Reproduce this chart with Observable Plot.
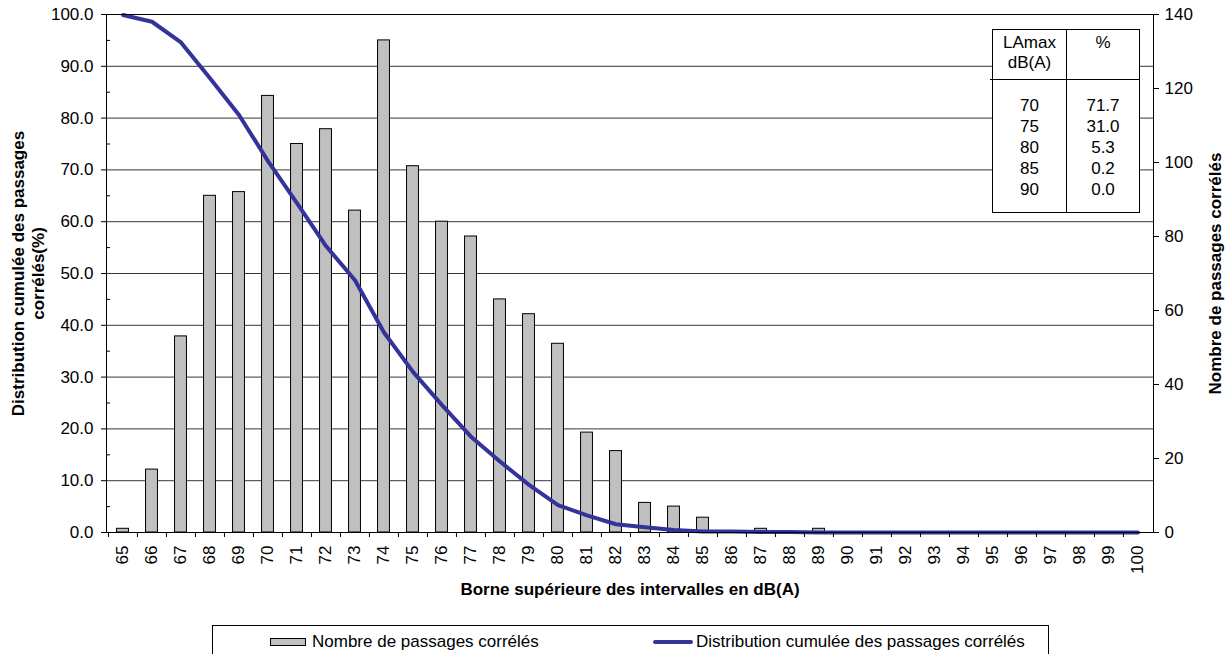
<!DOCTYPE html>
<html>
<head>
<meta charset="utf-8">
<script src="https://cdn.jsdelivr.net/npm/d3@7"></script>
<script src="https://cdn.jsdelivr.net/npm/@observablehq/plot@0.6"></script>
<style>
  html, body { margin: 0; padding: 0; background: #fff; }
  body { font-family: "Liberation Sans", Arial, sans-serif; }
  #wrap { position: relative; width: 1231px; height: 654px; overflow: hidden; }
  #table { position: absolute; left: 992px; top: 29px; width: 146px; height: 182px; border: 1px solid #000; background: #fff; font-size: 17px; color: #000; }
  #table .col { position: absolute; top: 0; bottom: 0; text-align: center; }
  #table .c1 { left: 0; width: 73px; border-right: 1px solid #000; }
  #table .c2 { left: 74px; width: 72px; }
  #table .head { height: 46px; padding-top: 3px; line-height: 20px; }
  #table .body { padding-top: 16px; line-height: 21px; }
  #table .sep { position: absolute; left: -3px; right: 0; top: 49px; border-top: 1px solid #000; }
  #legend { position: absolute; left: 212px; top: 625px; width: 835px; height: 40px; border: 1px solid #000; font-size: 17px; }
  #legend .item { position: absolute; top: 6px; display: flex; align-items: center; white-space: nowrap; }
  #legend .sw-bar { width: 34px; height: 6px; background: #c0c0c0; border: 1px solid #000; margin-right: 6px; }
  #legend .sw-line { width: 40px; height: 4px; background: #333399; border-radius: 2px; margin-right: 3px; }
</style>
</head>
<body>
<div id="wrap">
  <div id="chart"></div>
  <div id="table"></div>
  <div id="legend"></div>
</div>
<script>
// ---- Data ----
const bins = ["65","66","67","68","69","70","71","72","73","74","75","76","77","78","79","80","81","82","83","84","85","86","87","88","89","90","91","92","93","94","95","96","97","98","99","100"];
const counts = [1,17,53,91,92,118,105,109,87,133,99,84,80,63,59,51,27,22,8,7,4,0,1,0,1,0,0,0,0,0,0,0,0,0,0,0];
const cumulative = [99.9,98.6,94.6,87.7,80.6,71.7,63.6,55.3,48.7,38.6,31.0,24.6,18.5,13.7,9.2,5.3,3.3,1.6,1.0,0.5,0.2,0.2,0.1,0.1,0.0,0.0,0.0,0.0,0.0,0.0,0.0,0.0,0.0,0.0,0.0,0.0];
const leftTicks = [0,10,20,30,40,50,60,70,80,90,100];
const leftMinorTicks = [5,15,25,35,45,55,65,75,85,95];
const rightTicks = [0,20,40,60,80,100,120,140];
const rightMax = 140;
const tableLevels = ["70","75","80","85","90"];
const tablePct = ["71.7","31.0","5.3","0.2","0.0"];
const seriesNames = ["Nombre de passages corrélés", "Distribution cumulée des passages corrélés"];
const xTitle = "Borne supérieure des intervalles en dB(A)";
const yLeftTitle = "Distribution cumulée des passages\ncorrélés(%)";
const yRightTitle = "Nombre de passages corrélés";

const data = bins.map((b, i) => ({bin: b, count: counts[i], cum: cumulative[i]}));
const toLeft = v => v * 100 / rightMax; // secondary axis mapping

const W = 1231, H = 615;
const mL = 106, mR = 78, mT = 14, mB = 83;
const bw = (W - mL - mR) / bins.length;
const FONT = "Liberation Sans, Arial, sans-serif";

const chart = Plot.plot({
  width: W, height: H,
  marginLeft: mL, marginRight: mR, marginTop: mT, marginBottom: mB,
  style: {fontFamily: FONT, fontSize: "17px", color: "#000", background: "#fff", overflow: "visible"},
  x: {type: "band", domain: bins, padding: 0, axis: null},
  y: {domain: [0, 100], axis: null},
  marks: [
    Plot.gridY(leftTicks.slice(1), {stroke: "#222", strokeOpacity: 0.9}),
    Plot.barY(data, {x: "bin", y: d => toLeft(d.count), fill: "#c0c0c0", stroke: "#000", strokeWidth: 1, insetLeft: (bw - 12) / 2, insetRight: (bw - 12) / 2}),
    Plot.line(data, {x: "bin", y: "cum", stroke: "#333399", strokeWidth: 4, strokeLinejoin: "round"}),
    Plot.frame({stroke: "#000"}),
    // left axis
    Plot.axisY(leftTicks, {anchor: "left", tickSize: 5, tickPadding: 8, tickFormat: d => d.toFixed(1), label: null, fontSize: 17}),
    Plot.axisY(leftMinorTicks, {anchor: "left", tickSize: 4, dx: 4, tickFormat: () => "", label: null}),
    // right axis (secondary scale: count)
    Plot.axisY(rightTicks.map(toLeft), {anchor: "right", tickSize: 5, tickPadding: 6, tickFormat: (d, i) => String(rightTicks[i]), label: null, fontSize: 17}),
    // x axis: ticks at band edges, labels centred
    Plot.axisX(bins, {anchor: "bottom", tickSize: 5, dx: -bw / 2, tickFormat: () => "", label: null}),
    Plot.axisX(bins, {anchor: "bottom", tickSize: 0, tickPadding: 13, tickRotate: -90, label: null, fontSize: 17}),
    // titles
    Plot.text([xTitle], {frameAnchor: "bottom", dy: 62, text: d => d, fontWeight: "bold", fontSize: 17, textAnchor: "middle"}),
    Plot.text([yLeftTitle], {frameAnchor: "left", dx: -79, rotate: -90, text: d => d, fontWeight: "bold", fontSize: 17, lineHeight: 1.2, textAnchor: "middle", lineAnchor: "middle"}),
    Plot.text([yRightTitle], {frameAnchor: "right", dx: 62, rotate: -90, text: d => d, fontWeight: "bold", fontSize: 17, textAnchor: "middle", lineAnchor: "middle"})
  ]
});
document.getElementById("chart").appendChild(chart);

// inset table
const table = document.getElementById("table");
table.innerHTML =
  `<div class="col c1"><div class="head">LAmax<br>dB(A)</div><div class="body">${tableLevels.join("<br>")}</div></div>` +
  `<div class="col c2"><div class="head">%</div><div class="body">${tablePct.join("<br>")}</div></div>` +
  `<div class="sep"></div>`;

// legend
const legend = document.getElementById("legend");
legend.innerHTML =
  `<div class="item" style="left:57px"><span class="sw-bar"></span>${seriesNames[0]}</div>` +
  `<div class="item" style="left:440px"><span class="sw-line"></span>${seriesNames[1]}</div>`;
</script>
</body>
</html>
